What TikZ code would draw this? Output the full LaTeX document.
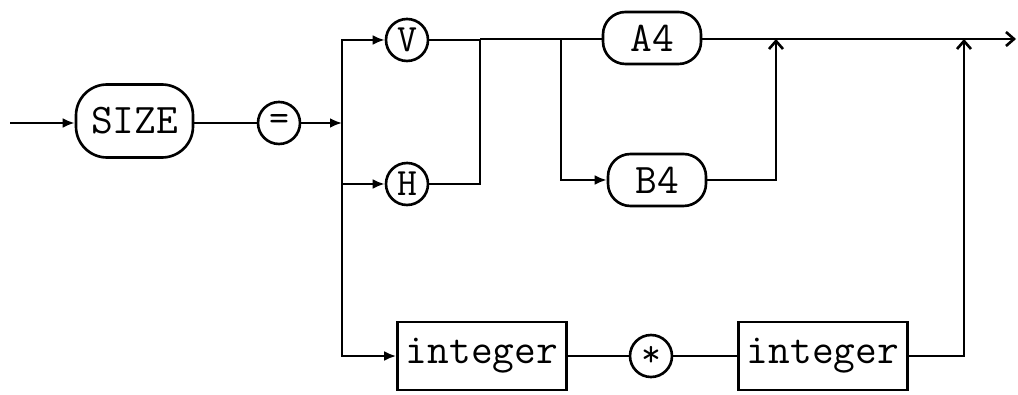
\documentclass[tikz,border=0pt]{standalone}
\usepackage{fontspec}
\usepackage{tikz}
\usetikzlibrary{arrows.meta}

\begin{document}
\begin{tikzpicture}[
  line width=1.5pt,
  every node/.style={font=\fontsize{24}{28}\selectfont\ttfamily},
  keyword/.style={draw, rounded corners=0.45cm, minimum width=1.96cm,
                  minimum height=1.04cm, inner sep=0pt},
  symb/.style={draw, circle, minimum size=0.84cm, inner sep=0pt,
               font=\fontsize{22}{26}\selectfont\ttfamily},
  nonterm/.style={draw, minimum width=3.38cm, minimum height=1.36cm, inner sep=0pt},
  entry/.style={-{Latex[length=2.4mm,width=2mm]}},
  upto/.style={-{Straight Barb[length=1.6mm,width=2.8mm]}},
]
  \useasboundingbox (0,0) rectangle (20.36,7.88);

  \node[keyword, rounded corners=0.62cm, minimum width=2.34cm,
        minimum height=1.46cm] (size) at (2.69,5.46) {SIZE};
  \node[symb] (eq)   at (5.58,5.42) {=};
  \node[symb] (v)    at (8.14,7.08) {V};
  \node[symb] (h)    at (8.14,4.2)  {H};
  \node[keyword] (a4) at (13.04,7.12) {A4};
  \node[keyword] (b4) at (13.14,4.28) {B4};
  \node[nonterm] (int1) at (9.64,0.76) {integer};
  \node[symb]    (star) at (13.02,0.76) {*};
  \node[nonterm] (int2) at (16.46,0.76) {integer};

  \coordinate (in)     at (0.2,5.42);
  \coordinate (split)  at (6.84,5.42);
  \coordinate (vhjoin) at (9.6,7.1);
  \coordinate (absplit) at (11.22,7.1);
  \coordinate (abjoin) at (15.52,7.1);
  \coordinate (ijoin)  at (19.28,7.1);
  \coordinate (out)    at (20.32,7.1);

  % main line
  \draw[entry] (in) -- (size.west |- in);
  \draw (size.east |- eq) -- (eq);
  \draw[entry] (eq) -- (split);

  % V / H choice
  \draw[entry] (split) |- (v);
  \draw[entry] (split) |- (h);
  \draw (v) -- (v.east -| vhjoin) -- (vhjoin);
  \draw (h) -| (vhjoin);
  \draw (vhjoin) -- (a4.west |- vhjoin);

  % A4 / B4 choice
  \draw[entry] (absplit) |- (b4);
  \draw[upto] (b4) -| (abjoin);
  \draw[upto] (a4.east |- out) -- (out);

  % integer * integer
  \draw[entry] (split) |- (int1);
  \draw (int1) -- (star);
  \draw (star) -- (int2);
  \draw[upto] (int2) -| (ijoin);
\end{tikzpicture}
\end{document}
